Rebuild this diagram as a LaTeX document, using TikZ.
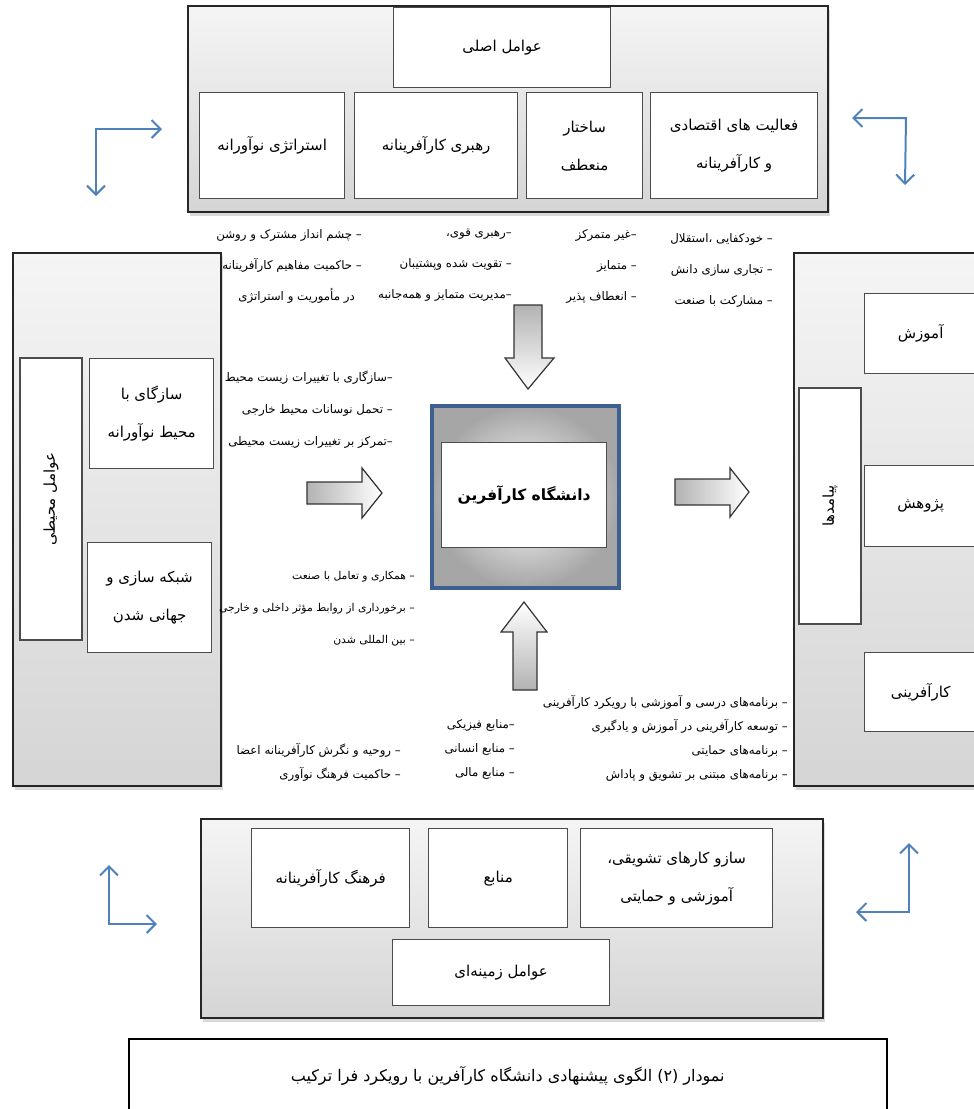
\documentclass[tikz,border=0pt]{standalone}
\usepackage{fontspec}
\usepackage{xcolor}
\usetikzlibrary{arrows.meta,shadows}
\newfontfamily\prs[Script=Arabic]{DejaVu Sans}
\TeXXeTstate=1
\newcommand\rl[1]{\beginR#1\endR}
\definecolor{turnblue}{RGB}{79,129,189}
\definecolor{unibl}{RGB}{62,96,145}

\begin{document}
\begin{tikzpicture}[x=1pt,y=-1pt,>={Straight Barb[length=9pt,width=18pt]},
  panel/.style={draw=black!85,line width=2pt,top color=gray!8,bottom color=gray!33,anchor=north west,
    drop shadow={shadow xshift=2pt,shadow yshift=-4pt,opacity=.3}},
  box/.style={draw=black!70,line width=1.3pt,fill=white,anchor=north west,align=center,
    font=\prs\fontsize{15}{38}\selectfont},
  remark/.style={anchor=north east,align=right,inner sep=0pt,font=\prs\fontsize{11.8}{#1}\selectfont},
  turn/.style={draw=turnblue,line width=2pt},
  fatarrow/.style={draw=black!80,line width=1.2pt}]
\useasboundingbox (0,0) rectangle (974,1109);
\clip (0,0) rectangle (974,1109);

% Top panel: main factors
\node[panel,minimum width=640pt,minimum height=206pt] (mainP) at (187,5) {};
\node[box,minimum width=217pt,minimum height=80pt] (main) at (393,7) {\rl{عوامل اصلی}};
\node[box,minimum width=145pt,minimum height=106pt] (strat) at (199,92) {\rl{استراتژی نوآورانه}};
\node[box,minimum width=163pt,minimum height=106pt] (lead) at (354,92) {\rl{رهبری کارآفرینانه}};
\node[box,minimum width=116pt,minimum height=106pt] (struct) at (526,92) {\rl{ساختار}\\\rl{منعطف}};
\node[box,minimum width=167pt,minimum height=106pt] (econ) at (650,92) {\rl{فعالیت های اقتصادی}\\\rl{و کارآفرینانه}};

% Left panel: environmental factors
\node[panel,minimum width=208pt,minimum height=533pt] (envP) at (12,252) {};
\node[box,anchor=center,rotate=90,minimum width=282pt,minimum height=62pt] (env) at (51,499) {\rl{عوامل محیطی}};
\node[box,minimum width=124pt,minimum height=110pt] (adapt) at (89,358) {\rl{سازگای با}\\\rl{محیط نوآورانه}};
\node[box,minimum width=124pt,minimum height=110pt] (net) at (87,542) {\rl{شبکه سازی و}\\\rl{جهانی شدن}};

% Right panel: outcomes
\node[panel,minimum width=220pt,minimum height=533pt] (outP) at (793,252) {};
\node[box,minimum width=112pt,minimum height=80pt] (edu) at (864,293) {\rl{آموزش}};
\node[box,anchor=center,rotate=90,minimum width=236pt,minimum height=62pt] (outc) at (830,506) {\rl{پیامدها}};
\node[box,minimum width=112pt,minimum height=81pt] (resrch) at (864,465) {\rl{پژوهش}};
\node[box,minimum width=112pt,minimum height=79pt] (entre) at (864,652) {\rl{کارآفرینی}};

% Bottom panel: context factors
\node[panel,minimum width=622pt,minimum height=199pt] (ctxP) at (200,818) {};
\node[box,minimum width=158pt,minimum height=99pt] (cult) at (251,828) {\rl{فرهنگ کارآفرینانه}};
\node[box,minimum width=139pt,minimum height=99pt] (src) at (428,828) {\rl{منابع}};
\node[box,minimum width=192pt,minimum height=99pt] (mech) at (580,828) {\rl{سازو کارهای تشویقی،}\\\rl{آموزشی و حمایتی}};
\node[box,minimum width=217pt,minimum height=66pt] (ctx) at (392,939) {\rl{عوامل زمینه‌ای}};

% Entrepreneurial university
\node[draw=unibl,line width=4pt,inner color=white,outer color=gray!70,anchor=north west,
  minimum width=187pt,minimum height=182pt] (uni) at (430,404) {};
\node[box,minimum width=165pt,minimum height=105pt,font=\prs\bfseries\fontsize{15.5}{18}\selectfont] (uniT) at (441,442) {\rl{دانشگاه کارآفرین}};

% Block arrows
\draw[fatarrow,top color=gray!60,bottom color=white] (514,305) -- ++(28,0) -- ++(0,53) -- ++(12,0) -- (528,389) -- (505,358) -- ++(9,0) -- cycle;
\draw[fatarrow,top color=white,bottom color=gray!60] (513,690) -- ++(0,-58) -- ++(-12,0) -- (524,602) -- (547,632) -- ++(-10,0) -- ++(0,58) -- cycle;
\draw[fatarrow,left color=gray!60,right color=white] (307,482) -- ++(55,0) -- ++(0,-14) -- (382,493) -- (362,518) -- ++(0,-14) -- ++(-55,0) -- cycle;
\draw[fatarrow,left color=gray!60,right color=white] (675,479) -- ++(55,0) -- ++(0,-11) -- (749,492) -- (730,517) -- ++(0,-12) -- ++(-55,0) -- cycle;

% Notes
\node[remark=31] (gVision) at (362,229) {\rl{– چشم انداز مشترک و روشن}\\\rl{– حاکمیت مفاهیم کارآفرینانه}\\\rl{\kern7pt در مأموریت و استراتژی}};
\node[remark=31] (gLead) at (512,229) {\rl{–رهبری قوی،}\\\rl{– تقویت شده وپشتیبان}\\\rl{–مدیریت متمایز و همه‌جانبه}};
\node[remark=31] (gStruct) at (637,229) {\rl{–غیر متمرکز}\\\rl{– متمایز}\\\rl{– انعطاف پذیر}};
\node[remark=31] (gEcon) at (773,233) {\rl{– خودکفایی ،استقلال}\\\rl{– تجاری سازی دانش}\\\rl{– مشارکت با صنعت}};
\node[remark=32] (gAdapt) at (393,371) {\rl{–سازگاری با تغییرات زیست محیط}\\\rl{– تحمل نوسانات محیط خارجی}\\\rl{–تمرکز بر تغییرات زیست محیطی}};
\node[remark=32,font=\prs\fontsize{10.8}{32}\selectfont] (gNet) at (415,571) {\rl{– همکاری و تعامل با صنعت}\\\rl{– برخورداری از روابط مؤثر داخلی و خارجی}\\\rl{– بین المللی شدن}};
\node[remark=24] (gProg) at (788,695) {\rl{– برنامه‌های درسی و آموزشی با رویکرد کارآفرینی}\\\rl{– توسعه کارآفرینی در آموزش و یادگیری}\\\rl{– برنامه‌های حمایتی}\\\rl{– برنامه‌های مبتنی بر تشویق و پاداش}};
\node[remark=24] (gRes) at (515,719) {\rl{–منابع فیزیکی}\\\rl{– منابع انسانی}\\\rl{– منابع مالی}};
\node[remark=24] (gCult) at (401,743) {\rl{– روحیه و نگرش کارآفرینانه اعضا}\\\rl{– حاکمیت فرهنگ نوآوری}};

% Corner arrows
\coordinate (tlR) at (162,129); \coordinate (tlC) at (96,129); \coordinate (tlD) at (96,196);
\coordinate (trL) at (852,118); \coordinate (trC) at (906,118); \coordinate (trD) at (905,185);
\coordinate (blU) at (109,865); \coordinate (blC) at (109,924); \coordinate (blR) at (157,924);
\coordinate (brU) at (909,843); \coordinate (brC) at (909,912); \coordinate (brL) at (856,912);
\draw[turn,<->] (tlR) -- (tlC) -- (tlD);
\draw[turn,<->] (trL) -- (trC) -- (trD);
\draw[turn,<->] (blU) -- (blC) -- (blR);
\draw[turn,<->] (brU) -- (brC) -- (brL);

% Caption
\node[box,draw=black,line width=1.5pt,minimum width=758pt,minimum height=74pt,font=\prs\fontsize{16}{20}\selectfont] (cap) at (128,1038) {\rl{نمودار (۲) الگوی پیشنهادی دانشگاه کارآفرین با رویکرد فرا ترکیب}};
\end{tikzpicture}
\end{document}
